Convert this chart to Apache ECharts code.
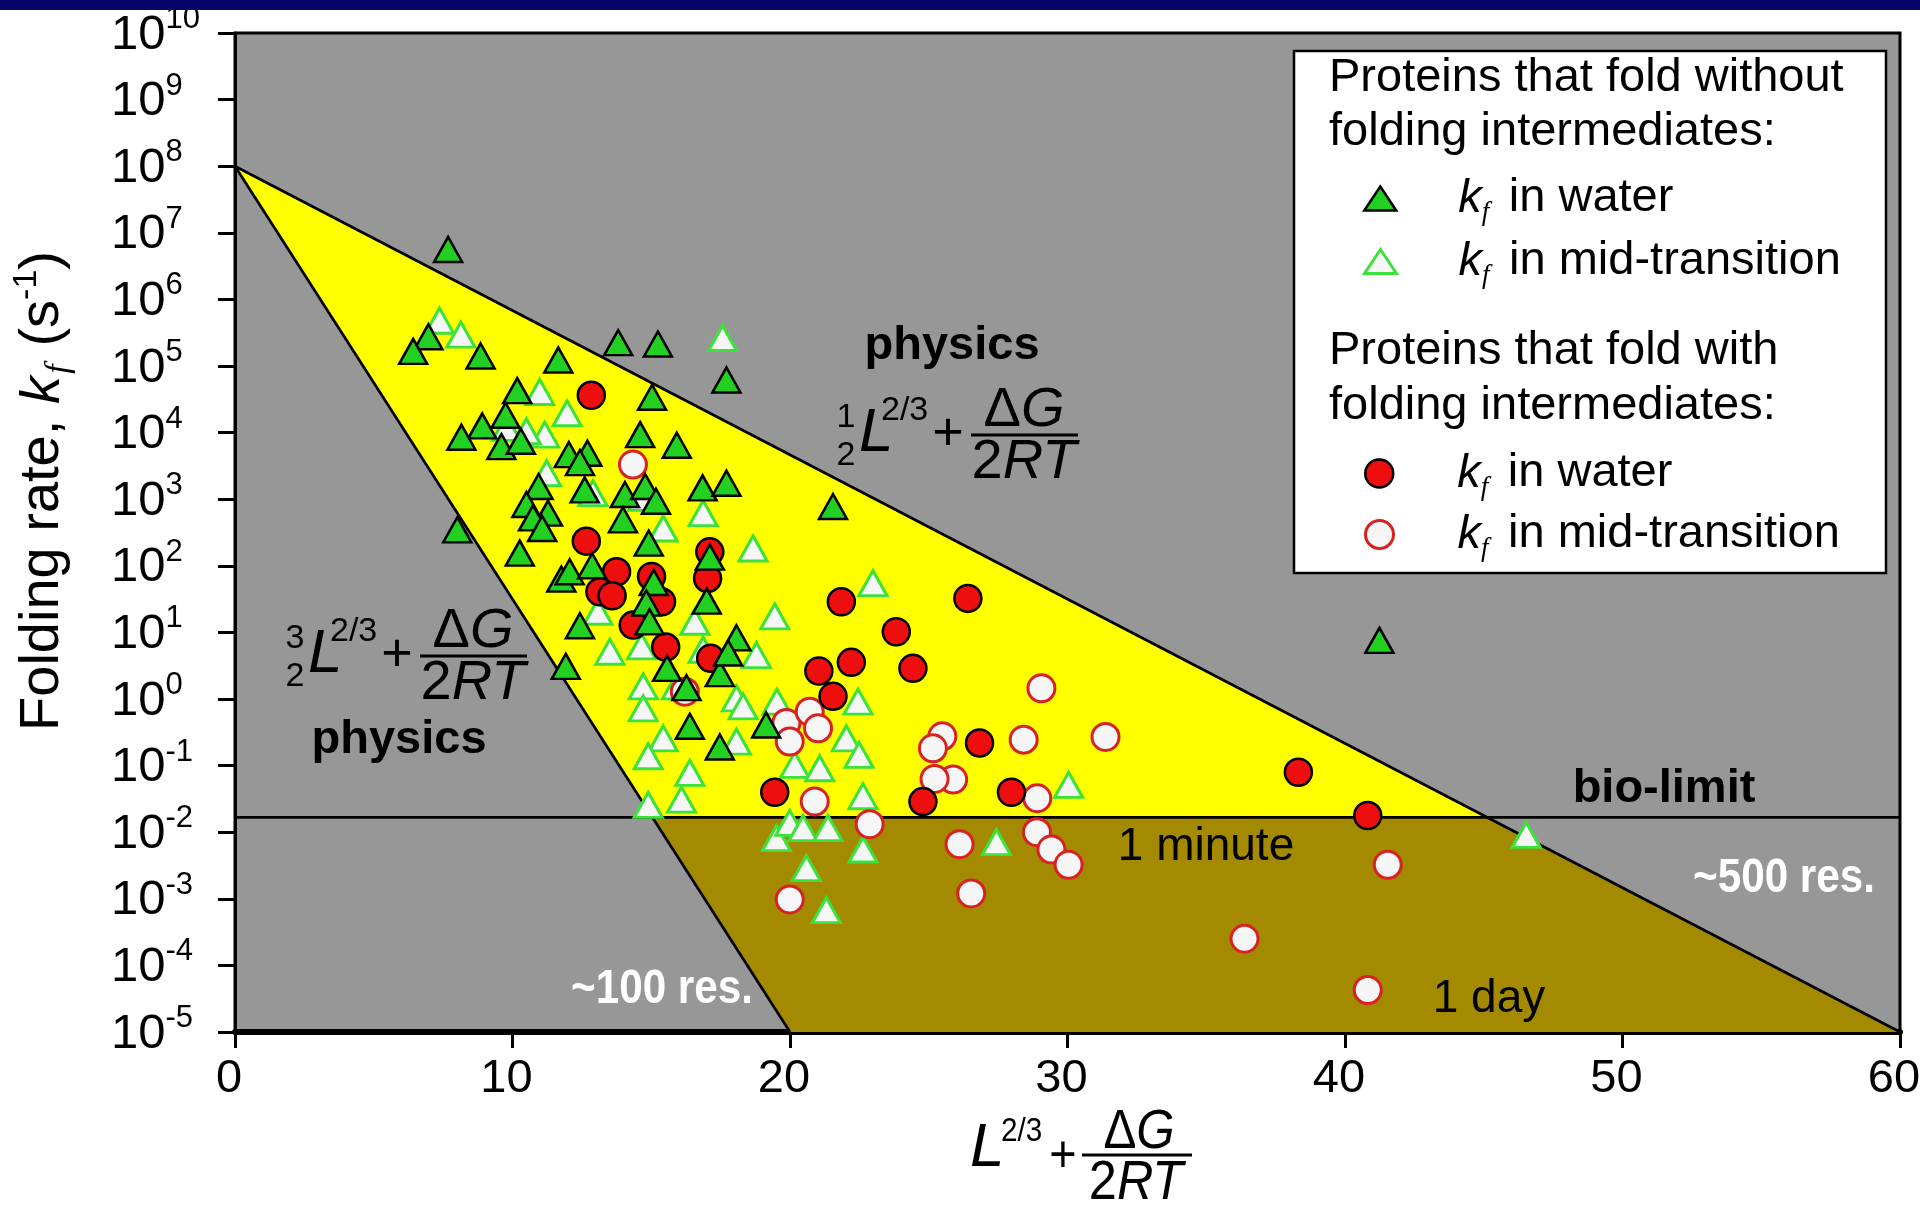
<!DOCTYPE html>
<html>
<head>
<meta charset="utf-8">
<script src="https://cdn.jsdelivr.net/npm/echarts@6/dist/echarts.min.js"></script>
<style>
  html, body { margin: 0; padding: 0; background: #ffffff; }
  #chart { width: 1920px; height: 1205px; }
</style>
</head>
<body>
<div id="chart"></div>
<script>
// Folding rates vs. L^(2/3) + ΔG/2RT.  Each pair: [x, log10(kf / s^-1)]

// Proteins folding without intermediates, kf in water
const noIntermWater = [
  [7.68, 6.75], [6.97, 5.44], [6.42, 5.22], [8.85, 5.15], [11.65, 5.09], [13.81, 5.35],
  [15.24, 5.33], [17.71, 4.79], [10.17, 4.63], [15.03, 4.53], [9.75, 4.26], [8.91, 4.10],
  [8.16, 3.93], [9.60, 3.79], [10.30, 3.87], [14.60, 3.97], [15.92, 3.81], [12.03, 3.67],
  [12.70, 3.69], [12.43, 3.55], [10.94, 3.19], [12.60, 3.14], [14.05, 3.07], [14.78, 3.19],
  [15.17, 2.97], [16.85, 3.17], [17.71, 3.24], [21.55, 2.89], [10.50, 2.92], [11.28, 2.79],
  [10.74, 2.72], [13.98, 2.69], [11.07, 2.56], [8.01, 2.54], [14.91, 2.34], [10.26, 2.19],
  [17.11, 2.13], [11.76, 1.80], [12.06, 1.91], [12.87, 2.00], [15.09, 1.75], [14.82, 1.44],
  [14.94, 1.16], [17.00, 1.47], [12.43, 1.10], [11.92, 0.49], [15.57, 0.46], [16.27, 0.17],
  [16.39, -0.41], [17.47, -0.72], [17.47, 0.38], [18.07, 0.92], [17.77, 0.69], [19.14, -0.39],
  [41.24, 0.88]
];

// Proteins folding without intermediates, kf at mid-transition
const noIntermMid = [
  [7.37, 5.68], [8.14, 5.47], [17.57, 5.42], [10.98, 4.61], [11.97, 4.29], [11.16, 3.97],
  [10.50, 4.02], [9.78, 4.07], [11.23, 3.39], [12.90, 3.09], [15.43, 2.56], [16.87, 2.79],
  [14.69, 3.02], [18.67, 2.26], [22.99, 1.74], [19.45, 1.24], [13.08, 1.31], [13.51, 0.71],
  [14.65, 0.79], [16.57, 1.16], [16.87, 0.74], [14.71, 0.19], [14.71, -0.14], [15.91, 0.19],
  [15.43, -0.59], [14.89, -0.86], [16.39, -1.11], [16.09, -1.51], [14.89, -1.59], [18.79, 0.66],
  [18.07, 0.01], [18.31, -0.11], [18.07, -0.64], [19.53, -0.04], [22.45, -0.04], [22.03, -0.59],
  [22.49, -0.84], [20.17, -0.99], [21.07, -1.04], [22.63, -1.46], [19.51, -2.09], [19.99, -1.86],
  [20.47, -1.94], [21.37, -1.94], [22.63, -2.26], [20.59, -2.54], [21.31, -3.17], [27.44, -2.15],
  [30.04, -1.29], [46.53, -2.04]
];

// Proteins folding with intermediates, kf in water
const intermWater = [
  [12.84, 4.56], [12.66, 2.37], [17.11, 2.21], [13.75, 1.91], [13.15, 1.61], [13.59, 1.55],
  [15.01, 1.84], [15.37, 1.46], [14.35, 1.11], [15.52, 0.78], [17.03, 1.81], [17.14, 0.61],
  [21.85, 1.46], [26.41, 1.51], [23.83, 1.01], [22.21, 0.55], [21.04, 0.42], [24.43, 0.46],
  [21.55, 0.04], [19.45, -1.40], [24.79, -1.54], [27.98, -1.40], [26.83, -0.66], [38.32, -1.10],
  [40.82, -1.75]
];

// Proteins folding with intermediates, kf at mid-transition
const intermMid = [
  [14.34, 3.52], [16.21, 0.11], [19.87, -0.36], [20.71, -0.19], [21.01, -0.44], [19.99, -0.64],
  [20.89, -1.54], [22.87, -1.88], [19.99, -3.01], [26.11, -2.18], [26.53, -2.92], [25.49, -0.56],
  [25.15, -0.74], [25.88, -1.21], [25.21, -1.20], [29.06, 0.16], [28.42, -0.61], [31.37, -0.57],
  [28.91, -1.49], [28.90, -2.00], [29.42, -2.26], [30.04, -2.49], [41.54, -2.49], [36.38, -3.60],
  [40.82, -4.37]
];

// Axis ranges
const xRange = [0, 60];
const xStep = 10;
const yExponents = [-5, 10];

// Model limits: both "physics" lines start at kf = 1e8 s^-1 for x = 0
const apexRate = 1e8;
const floorRate = 1e-5;
const halfLineEnd = 60;        // ½L^(2/3) + ΔG/2RT reaches the floor here
const threeHalvesLineEnd = 20; // 3/2 L^(2/3) + ΔG/2RT reaches the floor here
const bioLimitRate = 1 / 60;   // folding within one minute

const SANS = '"Liberation Sans", Arial, Helvetica, sans-serif';
const SERIF = '"Liberation Serif", "Times New Roman", serif';

const toRates = arr => arr.map(([x, lg]) => [x, Math.pow(10, lg)]);

// x where a log-linear limit line crosses a given rate
function xAtRate(lineEnd, rate) {
  const a = Math.log10(apexRate), f = Math.log10(floorRate), r = Math.log10(rate);
  return lineEnd * (a - r) / (a - f);
}
const xHalfAtBio = xAtRate(halfLineEnd, bioLimitRate);
const xThreeHalvesAtBio = xAtRate(threeHalvesLineEnd, bioLimitRate);

const fastZone = [[0, apexRate], [xHalfAtBio, bioLimitRate], [xThreeHalvesAtBio, bioLimitRate]];
const slowZone = [[xThreeHalvesAtBio, bioLimitRate], [xHalfAtBio, bioLimitRate],
                  [halfLineEnd, floorRate], [threeHalvesLineEnd, floorRate]];

function zoneSeries(points, color) {
  return {
    type: 'custom', silent: true, animation: false, z: 1,
    data: [[0, 1]],
    renderItem: (params, api) => ({
      type: 'polygon',
      shape: { points: points.map(p => api.coord(p)) },
      style: { fill: color }
    })
  };
}

function limitLine(data) {
  return {
    type: 'line', silent: true, animation: false, z: 2,
    data, showSymbol: false, symbol: 'none',
    lineStyle: { color: '#000', width: 2.7 }
  };
}

const NAMES = {
  nw: 'Without intermediates, kf in water',
  nm: 'Without intermediates, kf in mid-transition',
  iw: 'With intermediates, kf in water',
  im: 'With intermediates, kf in mid-transition'
};

const STYLE = {
  nw: { color: '#22D022', borderColor: '#000', borderWidth: 2.5, opacity: 1 },
  nm: { color: '#F6F6F6', borderColor: '#3CE23C', borderWidth: 3, opacity: 1 },
  iw: { color: '#EE0E0E', borderColor: '#000', borderWidth: 2.5, opacity: 1 },
  im: { color: '#F6F6F6', borderColor: '#D82222', borderWidth: 3, opacity: 1 }
};

function scatter(key, data, symbol, size) {
  return {
    name: NAMES[key], type: 'scatter', silent: true, animation: false, z: 3,
    symbol, symbolSize: size, data: toRates(data),
    itemStyle: STYLE[key],
    emphasis: { disabled: true }
  };
}

// text helper: y given as baseline
function txt(x, baseline, text, size, o = {}) {
  const fam = o.family || SANS;
  const k = fam === SERIF ? 0.3375 : 0.3465;
  return {
    type: 'text', x, y: o.middle != null ? o.middle : baseline - k * size, z: 100, silent: true,
    scaleX: o.scaleX || 1, rotation: o.rotation || 0,
    style: {
      text, fontFamily: fam, fontSize: size,
      fontStyle: o.italic ? 'italic' : 'normal',
      fontWeight: o.bold ? 'bold' : 'normal',
      fill: o.color || '#000', align: o.align || 'left', verticalAlign: 'middle',
      rich: o.rich
    }
  };
}

function bar(x1, x2, y, w) {
  return { type: 'line', z: 100, silent: true, shape: { x1, y1: y, x2, y2: y },
           style: { stroke: '#000', lineWidth: w || 3 } };
}

const fracRich = size => ({
  u: { fontFamily: SANS, fontSize: size, fill: '#000', lineHeight: size * 1.2 },
  i: { fontFamily: SANS, fontSize: size, fontStyle: 'italic', fill: '#000', lineHeight: size * 1.2 }
});

// coef·L^(2/3) + ΔG/2RT, ox = left of the coefficient, oy = baseline of L
function limitFormula(ox, oy, num, den) {
  return [
    txt(ox + 8, oy - 26, num, 34, { align: 'center' }),
    txt(ox + 8, oy + 12, den, 34, { align: 'center' }),
    txt(ox + 21, oy, 'L', 62, { italic: true }),
    txt(ox + 43, oy - 33, '2/3', 34),
    txt(ox + 110, 0, '+', 54, { align: 'center', middle: oy - 20 }),
    bar(ox + 133, ox + 240, oy - 20, 3),
    txt(ox + 186, oy - 25, '{u|Δ}{i|G}', 56, { align: 'center', rich: fracRich(56) }),
    txt(ox + 186, oy + 27, '{u|2}{i|RT}', 56, { align: 'center', rich: fracRich(56) })
  ];
}

const graphics = [
  // top banner
  { type: 'rect', z: 100, silent: true, shape: { x: 0, y: 0, width: 1920, height: 10 },
    style: { fill: '#05056C' } },

  // region labels
  txt(952, 362, 'physics', 47, { bold: true, align: 'center' }),
  ...limitFormula(838, 455, '1', '2'),
  ...limitFormula(287, 676, '3', '2'),
  txt(399, 756, 'physics', 47, { bold: true, align: 'center' }),
  txt(1664, 805, 'bio-limit', 47, { bold: true, align: 'center' }),
  txt(1206, 863, '1 minute', 46, { align: 'center' }),
  txt(1489, 1015, '1 day', 46, { align: 'center' }),
  txt(662, 1006, '~100 res.', 48, { bold: true, align: 'center', color: '#FFFFFF', scaleX: 0.88 }),
  txt(1784, 895, '~500 res.', 48, { bold: true, align: 'center', color: '#FFFFFF', scaleX: 0.88 }),

  // legend frame and headings
  { type: 'rect', z: 50, silent: true, shape: { x: 1294, y: 51, width: 592, height: 522 },
    style: { fill: '#FFFFFF', stroke: '#000', lineWidth: 2.5 } },
  txt(1329, 94, 'Proteins that fold without', 47),
  txt(1329, 148, 'folding intermediates:', 47),
  txt(1329, 367, 'Proteins that fold with', 47),
  txt(1329, 422, 'folding intermediates:', 47),

  // y-axis title
  {
    type: 'text', x: 43, y: 491, rotation: Math.PI / 2, z: 100, silent: true,
    style: {
      text: '{t|Folding rate, }{k|k}{f|f}{t| (s}{s|-1}{t|)}',
      align: 'center', verticalAlign: 'middle',
      rich: {
        t: { fontFamily: SANS, fontSize: 56, fill: '#000', lineHeight: 66 },
        k: { fontFamily: SANS, fontSize: 56, fontStyle: 'italic', fill: '#000', lineHeight: 66 },
        f: { fontFamily: SERIF, fontSize: 34, fontStyle: 'italic', fill: '#000', lineHeight: 34, verticalAlign: 'bottom', width: 14 },
        s: { fontFamily: SANS, fontSize: 34, fill: '#000', lineHeight: 30, verticalAlign: 'top' }
      }
    }
  },

  // x-axis title
  txt(970, 1170, 'L', 62, { italic: true }),
  txt(1001, 1143, '2/3', 33, { scaleX: 0.9 }),
  txt(1063, 0, '+', 52, { align: 'center', middle: 1158, scaleX: 0.9 }),
  bar(1082, 1192, 1155, 3),
  txt(1139, 1152, '{u|Δ}{i|G}', 56, { align: 'center', scaleX: 0.88, rich: fracRich(56) }),
  txt(1136, 1203, '{u|2}{i|RT}', 56, { align: 'center', scaleX: 0.9, rich: fracRich(56) })
];

// one legend per marker row, placed by the row's vertical centre
function legendEntry(key, left, centreY, h, label) {
  return {
    show: true, data: [NAMES[key]], left, top: centreY - 21, padding: 0, z: 60,
    itemWidth: 32, itemHeight: h, selectedMode: false,
    itemStyle: { borderWidth: STYLE[key].borderWidth },
    formatter: () => '{g| }{k|k}{f|f}{t| ' + label + '}',
    textStyle: {
      color: '#000', fontFamily: SANS, fontSize: 47,
      rich: {
        g: { width: 57, fontSize: 47, lineHeight: 56 },
        k: { fontFamily: SANS, fontSize: 47, fontStyle: 'italic', color: '#000', lineHeight: 56 },
        f: { fontFamily: SERIF, fontSize: 27, fontStyle: 'italic', color: '#000', lineHeight: 23, verticalAlign: 'bottom', width: 14 },
        t: { fontFamily: SANS, fontSize: 47, color: '#000', lineHeight: 56 }
      }
    }
  };
}

const chart = echarts.init(document.getElementById('chart'), null, { renderer: 'canvas' });

chart.setOption({
  animation: false,
  backgroundColor: '#FFFFFF',
  grid: {
    left: 235, right: 20, top: 33, bottom: 173,
    show: true, backgroundColor: '#979797', borderColor: '#000', borderWidth: 3,
    containLabel: false, outerBoundsMode: 'none'
  },
  xAxis: {
    type: 'value', min: xRange[0], max: xRange[1], interval: xStep,
    axisLine: { show: true, onZero: false, lineStyle: { color: '#000', width: 6 } },
    axisTick: { show: true, length: 16, lineStyle: { color: '#000', width: 3 } },
    splitLine: { show: false },
    axisLabel: {
      color: '#000', fontFamily: SANS, fontSize: 47, margin: 24,
      padding: [0, 12, 0, 0], showMinLabel: true, showMaxLabel: true
    }
  },
  yAxis: {
    type: 'log', logBase: 10,
    min: Math.pow(10, yExponents[0]), max: Math.pow(10, yExponents[1]),
    interval: 1,
    splitNumber: yExponents[1] - yExponents[0],
    axisLine: { show: true, onZero: false, lineStyle: { color: '#000', width: 3 } },
    axisTick: { show: true, length: 17, lineStyle: { color: '#000', width: 3 } },
    splitLine: { show: false },
    axisLabel: {
      align: 'left', margin: 124, showMinLabel: true, showMaxLabel: true,
      padding: [4, 0, 0, 0],
      formatter: v => '{b|10}{s|' + Math.round(Math.log10(v)) + '}',
      rich: {
        b: { color: '#000', fontFamily: SANS, fontSize: 49, lineHeight: 62 },
        s: { color: '#000', fontFamily: SANS, fontSize: 31, lineHeight: 47, verticalAlign: 'top' }
      }
    }
  },
  legend: [
    legendEntry('nw', 1363, 196, 24, 'in water'),
    legendEntry('nm', 1363, 259, 24, 'in mid-transition'),
    legendEntry('iw', 1364, 471, 28, 'in water'),
    legendEntry('im', 1364, 532, 28, 'in mid-transition')
  ],
  graphic: graphics,
  series: [
    zoneSeries(fastZone, '#FFFF00'),
    zoneSeries(slowZone, '#A38A00'),
    limitLine([[0, apexRate], [halfLineEnd, floorRate]]),
    limitLine([[0, apexRate], [threeHalvesLineEnd, floorRate]]),
    limitLine([[xRange[0], bioLimitRate], [xRange[1], bioLimitRate]]),
    scatter('nm', noIntermMid, 'triangle', [28, 25]),
    scatter('im', intermMid, 'circle', 27),
    scatter('iw', intermWater, 'circle', 27),
    scatter('nw', noIntermWater, 'triangle', [28, 25])
  ]
});
</script>
</body>
</html>
